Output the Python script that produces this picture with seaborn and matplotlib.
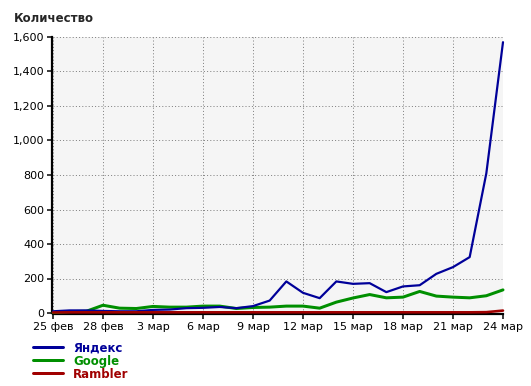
import numpy as np
import pandas as pd
import matplotlib
matplotlib.use("Agg")
import matplotlib.pyplot as plt
import seaborn as sns
from matplotlib.lines import Line2D

# ---- data ----
tick_labels = ["25 фев", "28 фев", "3 мар", "6 мар", "9 мар", "12 мар",
               "15 мар", "18 мар", "21 мар", "24 мар"]
yandex = [10, 15, 15, 12, 10, 10, 18, 20, 28, 30, 35, 28, 40, 72, 183, 117,
          86, 183, 169, 173, 121, 154, 161, 227, 266, 324, 810, 1570]
google = [2, 8, 10, 45, 28, 26, 38, 34, 34, 40, 40, 26, 32, 34, 40, 40,
          28, 63, 87, 107, 88, 92, 125, 98, 92, 88, 100, 134]
rambler = [3, 4, 4, 4, 4, 4, 4, 4, 4, 4, 4, 4, 4, 4, 4, 4,
           4, 4, 4, 4, 4, 4, 4, 4, 4, 4, 5, 14]
series_names = ["Яндекс", "Google", "Rambler"]
colors = ["#000099", "#008f00", "#a00000"]
y_ticks = [0, 200, 400, 600, 800, 1000, 1200, 1400, 1600]

day = np.arange(len(yandex))
df = pd.concat([
    pd.DataFrame({"day": day, "value": yandex, "series": series_names[0]}),
    pd.DataFrame({"day": day, "value": google, "series": series_names[1]}),
    pd.DataFrame({"day": day, "value": rambler, "series": series_names[2]}),
])

sns.set_style("white")
plt.rcParams["font.family"] = ["DejaVu Sans"]

W, H = 531, 386
PX = 72 / 100  # points per pixel
fig = plt.figure(figsize=(W / 100, H / 100), dpi=100)
ax = fig.add_axes([53 / W, 1 - 313 / H, 450 / W, 276 / H])
ax.set_facecolor("#f5f5f5")

sns.lineplot(data=df, x="day", y="value", hue="series", palette=colors,
             hue_order=series_names, ax=ax, legend=False, estimator=None)
widths = [2.2 * PX, 3.0 * PX, 2.6 * PX]
zorders = [5, 4, 6]
for ln, w, z in zip(ax.get_lines(), widths, zorders):
    ln.set_linewidth(w)
    ln.set_clip_on(False)
    ln.set_zorder(z)

ax.set_xlim(0, len(yandex) - 1)
ax.set_ylim(0, 1600)
ax.set_xticks(np.arange(0, len(yandex), 3))
ax.set_xticklabels(tick_labels)
ax.set_yticks(y_ticks)
ax.set_yticklabels([f"{v:,}" for v in y_ticks])
ax.set_xlabel("")
ax.set_ylabel("")

ax.grid(True, color="#808080", linestyle=(0, (1, 2.2)), linewidth=1.0 * PX)
for s in ["top", "right"]:
    ax.spines[s].set_visible(False)
for s in ["left", "bottom"]:
    ax.spines[s].set_color("black")
    ax.spines[s].set_linewidth(2.2 * PX)
    ax.spines[s].set_zorder(3)
ax.spines["bottom"].set_position(("outward", 1.2 * PX))
ax.spines["left"].set_position(("outward", 1.0 * PX))
ax.tick_params(axis="both", direction="out", length=5 * PX, width=1.5 * PX,
               colors="black", labelsize=8, pad=2, left=True, bottom=True)

fig.text(14 / W, 1 - 18 / H, "Количество", fontsize=8.5, fontweight="bold",
         ha="left", va="center")

# legend
handles = [Line2D([0], [0], color=c, lw=3.0 * PX) for c in colors]
leg = fig.legend(handles, series_names, loc="upper left",
                 bbox_to_anchor=(33 / W, 1 - 341.5 / H), frameon=False,
                 handlelength=2.55, handletextpad=0.85, labelspacing=0.0,
                 prop={"weight": "bold", "size": 8.5}, labelcolor=colors,
                 borderaxespad=0, borderpad=0)

fig.savefig("out.png", dpi=100)
